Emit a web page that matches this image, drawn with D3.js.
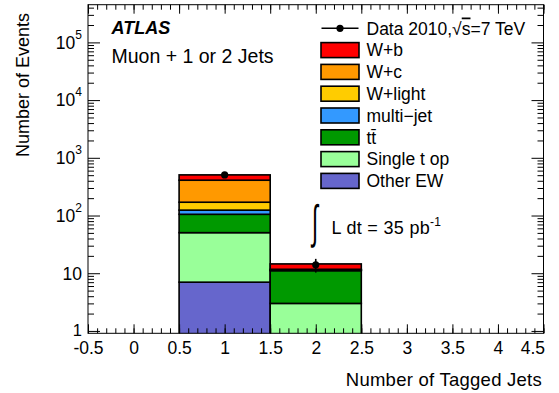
<!DOCTYPE html>
<html>
<head>
<meta charset="utf-8">
<script src="https://cdn.jsdelivr.net/npm/d3@7"></script>
<style>
body { margin: 0; background: #fff; }
text { font-family: "Liberation Sans", Arial, sans-serif; fill: #000; }
</style>
</head>
<body>
<div id="canvas"></div>
<script>
// number of tagged jets (bin centres)
const bins = [1, 2];

// stacked expectations per bin, bottom to top
const otherEW   = [7.0, 0.3];
const singleTop = [43.5, 2.7];
const ttbar     = [54.5, 8.1];
const multiJet  = [19, 0.1];
const wLight    = [46, 0.25];
const wc        = [239, 0.25];
const wb        = [97, 2.8];

// observed events
const dataCounts = [506, 14];

const xTicks = [-0.5, 0, 0.5, 1, 1.5, 2, 2.5, 3, 3.5, 4, 4.5];
const yTicks = [1, 10, 100, 1000, 10000, 100000];

const samples = [
    {key: "otherEW",   label: "Other EW",    color: "#6666cc", values: otherEW},
    {key: "singleTop", label: "Single t op", color: "#99ff99", values: singleTop},
    {key: "ttbar",     label: "tt\u0304",    color: "#009900", values: ttbar},
    {key: "multiJet",  label: "multi\u2212jet", color: "#3399ff", values: multiJet},
    {key: "wLight",    label: "W+light",     color: "#ffcc00", values: wLight},
    {key: "wc",        label: "W+c",         color: "#ff9900", values: wc},
    {key: "wb",        label: "W+b",         color: "#ff0000", values: wb}
];

const margin = {Top: 4.7, Right: 15.5, Bottom: 59.7, Left: 88};
const width = 559 - margin.Left - margin.Right;
const height = 393 - margin.Top - margin.Bottom;

const svg = d3.select("#canvas").append("svg")
    .attr("width", 559)
    .attr("height", 393);

const g = svg.append("g")
    .attr("transform", `translate(${margin.Left}, ${margin.Top})`);

const x = d3.scaleLinear().domain([-0.5, 4.5]).range([0, width]);
const y = d3.scaleLog().domain([0.91, 4.5e5]).range([height, 0]);

svg.append("clipPath").attr("id", "frameClip")
    .append("rect").attr("width", width).attr("height", height);

// stacked histogram
const table = bins.map((b, i) => {
    const row = {bin: b};
    samples.forEach(s => row[s.key] = s.values[i]);
    return row;
});
const stacked = d3.stack().keys(samples.map(s => s.key))(table);

const bars = g.append("g").attr("clip-path", "url(#frameClip)");
stacked.forEach((layer, li) => {
    bars.selectAll(null)
        .data(layer)
        .enter().append("rect")
        .attr("x", d => x(d.data.bin - 0.5))
        .attr("width", d => x(d.data.bin + 0.5) - x(d.data.bin - 0.5))
        .attr("y", d => y(d[1]))
        .attr("height", d => y(Math.max(d[0], y.domain()[0] * 0.5)) - y(d[1]))
        .attr("fill", samples[li].color)
        .attr("stroke", "#000")
        .attr("stroke-width", 1.6);
});

// minor tick positions
const xMinor = d3.range(0, 51).map(i => -0.5 + i * 0.1);
const yMinor = [];
for (let k = -1; k <= 5; k++) {
    for (let m = 2; m <= 9; m++) {
        const v = m * Math.pow(10, k);
        if (v > y.domain()[0] && v < y.domain()[1]) yMinor.push(v);
    }
}

const styleAxis = sel => {
    sel.select(".domain").remove();
    sel.selectAll("line").attr("stroke", "#000").attr("stroke-width", 1);
};

// bottom axis
g.append("g")
    .attr("transform", `translate(0, ${height})`)
    .call(d3.axisBottom(x).tickValues(xMinor).tickSize(-5).tickFormat(""))
    .call(styleAxis);
g.append("g")
    .attr("class", "x axis")
    .attr("transform", `translate(0, ${height})`)
    .call(d3.axisBottom(x).tickValues(xTicks).tickSize(-9).tickPadding(8.5)
        .tickFormat(d => String(d)))
    .call(styleAxis)
    .selectAll("text")
    .attr("font-size", "17.5px")
    .attr("font-family", "Liberation Sans, Arial, sans-serif")
    .filter(d => d === 4.5)
    .attr("text-anchor", "end")
    .attr("dx", "1");

// top axis (mirror)
g.append("g")
    .call(d3.axisTop(x).tickValues(xMinor).tickSize(-5).tickFormat(""))
    .call(styleAxis);
g.append("g")
    .call(d3.axisTop(x).tickValues(xTicks).tickSize(-9).tickFormat(""))
    .call(styleAxis);

// left axis
g.append("g")
    .call(d3.axisLeft(y).tickValues(yMinor).tickSize(-6).tickFormat(""))
    .call(styleAxis);
g.append("g")
    .attr("class", "y axis")
    .call(d3.axisLeft(y).tickValues(yTicks).tickSize(-12).tickFormat(""))
    .call(styleAxis);

// right axis (mirror)
g.append("g")
    .attr("transform", `translate(${width}, 0)`)
    .call(d3.axisRight(y).tickValues(yMinor).tickSize(-6).tickFormat(""))
    .call(styleAxis);
g.append("g")
    .attr("transform", `translate(${width}, 0)`)
    .call(d3.axisRight(y).tickValues(yTicks).tickSize(-12).tickFormat(""))
    .call(styleAxis);

// y tick labels with exponents
const yLab = g.append("g").selectAll("text")
    .data(yTicks)
    .enter().append("text")
    .attr("x", -6)
    .attr("y", d => y(d) + (d === 1 ? 5.5 : 6.3))
    .attr("text-anchor", "end")
    .attr("font-size", d => d === 1 ? "16.5px" : "17.5px");
yLab.each(function(d) {
    const p = Math.round(Math.log10(d));
    const t = d3.select(this);
    if (p < 2) {
        t.text(String(d));
    } else {
        t.append("tspan").text("10");
        t.append("tspan").attr("dy", -10).attr("font-size", "12px").text(p);
    }
});

// frame
g.append("rect")
    .attr("width", width)
    .attr("height", height)
    .attr("fill", "none")
    .attr("stroke", "#000")
    .attr("stroke-width", 1);

// data points
const pts = g.append("g").selectAll("g")
    .data(bins.map((b, i) => ({bin: b, n: dataCounts[i]})))
    .enter().append("g");
pts.append("line")
    .attr("x1", d => x(d.bin)).attr("x2", d => x(d.bin))
    .attr("y1", d => y(d.n - Math.sqrt(d.n)))
    .attr("y2", d => y(d.n + Math.sqrt(d.n)))
    .attr("stroke", "#000").attr("stroke-width", 1.6);
pts.append("circle")
    .attr("cx", d => x(d.bin))
    .attr("cy", d => y(d.n))
    .attr("r", 3.6)
    .attr("fill", "#000");

// axis titles
svg.append("text")
    .attr("transform", "translate(29, 13) rotate(-90)")
    .attr("text-anchor", "end")
    .attr("font-size", "18px")
    .text("Number of Events");

svg.append("text")
    .attr("x", 542)
    .attr("y", 386)
    .attr("text-anchor", "end")
    .attr("font-size", "18.5px")
    .attr("letter-spacing", "0.25px")
    .text("Number of Tagged Jets");

// labels
svg.append("text")
    .attr("x", 111.5).attr("y", 33.5)
    .attr("font-size", "18px")
    .attr("font-weight", "bold")
    .attr("font-style", "italic")
    .text("ATLAS");

svg.append("text")
    .attr("x", 111.5).attr("y", 62.7)
    .attr("font-size", "19.5px")
    .text("Muon + 1 or 2 Jets");

svg.append("text")
    .attr("transform", "translate(312, 238) scale(0.75, 1.55)")
    .attr("font-size", "30px")
    .text("\u222B");

const lumi = svg.append("text")
    .attr("x", 331.5).attr("y", 234)
    .attr("font-size", "18px")
    .attr("letter-spacing", "0.3px");
lumi.append("tspan").text("L dt = 35 pb");
lumi.append("tspan").attr("dy", -8).attr("font-size", "12px").text("-1");

// legend
const legendRows = [{label: "Data", data: true}].concat(
    samples.slice().reverse().map(s => ({label: s.label, color: s.color})));
const legend = svg.append("g").selectAll("g")
    .data(legendRows)
    .enter().append("g")
    .attr("transform", (d, i) => `translate(0, ${28.3 + i * 21.8})`);

legend.filter(d => !d.data).append("rect")
    .attr("x", 321).attr("y", -7.5)
    .attr("width", 38).attr("height", 15)
    .attr("fill", d => d.color)
    .attr("stroke", "#000")
    .attr("stroke-width", 1.6);

const dataRow = legend.filter(d => d.data);
dataRow.append("line")
    .attr("x1", 321.5).attr("x2", 358.5)
    .attr("stroke", "#000").attr("stroke-width", 1.6);
dataRow.append("circle")
    .attr("cx", 340).attr("r", 3.6).attr("fill", "#000");

legend.filter(d => !d.data).append("text")
    .attr("x", 366.5).attr("y", 6.2)
    .attr("font-size", "17.5px")
    .text(d => d.label);

const dataText = dataRow.append("text")
    .attr("x", 366.5).attr("y", 6.2)
    .attr("font-size", "17.5px");
dataText.append("tspan").text("Data 2010,\u221A");
dataText.append("tspan").attr("text-decoration", "overline").text("s");
dataText.append("tspan").text("=7 TeV");
</script>
</body>
</html>
